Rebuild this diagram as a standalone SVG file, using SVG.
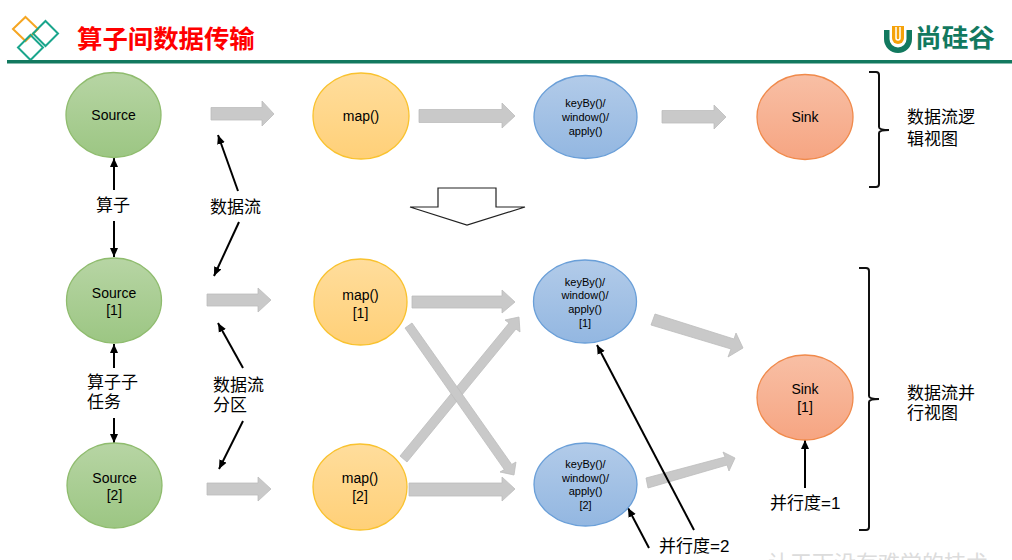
<svg xmlns="http://www.w3.org/2000/svg" width="1012" height="560" viewBox="0 0 1012 560">
<style>
text{font-family:"Liberation Sans","Noto Sans CJK SC",sans-serif;fill:#000;text-anchor:middle}
.n{font-size:14px}.k{font-size:11px}.c{font-size:17px;text-anchor:start}
.g{fill:url(#gg);stroke:#8fbc6e;stroke-width:1.3}.y{fill:url(#gy);stroke:#f9c22e;stroke-width:1.3}
.b{fill:url(#gb);stroke:#6a9fd8;stroke-width:1.3}.o{fill:url(#go);stroke:#f08a4b;stroke-width:1.3}
.fat{fill:#c9c9c9;stroke:#bdbdbd;stroke-width:.8}
.l{stroke:#000;stroke-width:2;fill:none;marker-end:url(#ah)}
.br{stroke:#111;stroke-width:2;fill:none}
</style>
<defs>
<linearGradient id="gg" x1="0" y1="0" x2="0" y2="1"><stop offset="0" stop-color="#b7d5a4"/><stop offset="1" stop-color="#9cc683"/></linearGradient>
<linearGradient id="gy" x1="0" y1="0" x2="0" y2="1"><stop offset="0" stop-color="#ffdd9c"/><stop offset="1" stop-color="#ffd078"/></linearGradient>
<linearGradient id="gb" x1="0" y1="0" x2="0" y2="1"><stop offset="0" stop-color="#b2cbe9"/><stop offset="1" stop-color="#93b7e1"/></linearGradient>
<linearGradient id="go" x1="0" y1="0" x2="0" y2="1"><stop offset="0" stop-color="#f8bfa5"/><stop offset="1" stop-color="#f6a582"/></linearGradient>
<marker id="ah" markerUnits="userSpaceOnUse" markerWidth="12" markerHeight="12" refX="9" refY="4.500" orient="auto"><path d="M0 0.500L9 4.500L0 8.500Z" fill="#000"/></marker>
</defs>
<g id="header">
<g fill="none" stroke-width="2">
<path d="M25.500 17L38 29L25.500 41L13 29Z" stroke="#f5a623"/>
<path d="M45.500 21L58 33.500L45.500 46L33 33.500Z" stroke="#1aa58c"/>
<path d="M30.500 35L43 47.500L30.500 60L18 47.500Z" stroke="#1aa58c"/>
</g>
<text x="77" y="47.500" style="font-size:25.400px;font-weight:bold;fill:#f00;text-anchor:start;font-family:'Noto Sans CJK SC','Liberation Sans',sans-serif">算子间数据传输</text>
<rect x="7" y="60" width="1005" height="3.500" fill="#12795f"/>
</g>
<g id="logo">
<path d="M884 30V39A14 14 0 0 0 912 39V30H906.500V39A8.500 8.500 0 0 1 889.500 39V30Z" fill="#12795f"/>
<path d="M892 26H904V38A6 6 0 0 1 892 38Z" fill="#f5a20a"/>
<path d="M896 27V38A2 2 0 0 0 900 38V27" fill="none" stroke="#fff" stroke-width="1.500"/>
<text x="915" y="47" textLength="80" lengthAdjust="spacingAndGlyphs" style="font-size:25px;font-weight:bold;fill:#12795f;text-anchor:start">尚硅谷</text>
</g>
<g id="connectors">
<g class="fat">
<path d="M211 107.500H262V101L274 114L262 126V120H211Z"/>
<path d="M419 109.500H502V103L515 116L502 128V122.500H419Z"/>
<path d="M662 110.500H714V105L726 117L714 129V123H662Z"/>
<path d="M207 294H258V288L271 300L258 312V306H207Z"/>
<path d="M412 296H502V290L515 302L502 313V308H412Z"/>
<path d="M207 483H258V477L271 489L258 501V495H207Z"/>
<path d="M409 483H502V477L515 489L502 501V496H409Z"/>
<path d="M655 314L734 339L736 333L743 348L728 357L731 349L651 325Z"/>
<path d="M646 478L725 457L723 452L735 458L729 471L727 465L648 488Z"/>
<path d="M400 456L509 323L505 320L519 317L520 332L516 329L407 462Z"/>
<path d="M405 328L504.300 469.600L500 472L514 475L516 462L511.700 464.400L412 323Z"/>
</g>
<path d="M410 207H438V188H496V207H525L467 225Z" fill="#fff" stroke="#222" stroke-width="1.200"/>
<path class="l" d="M114 190V158"/>
<path class="l" d="M114 221V257"/>
<path class="l" d="M114 368V344"/>
<path class="l" d="M114 418V443"/>
<path class="l" d="M238 191L218 135"/>
<path class="l" d="M239 222L214 276"/>
<path class="l" d="M243 368L218 323"/>
<path class="l" d="M243 421L219 469"/>
<path class="l" d="M694 530L597 345"/>
<path class="l" d="M649 548L628 508"/>
<path class="l" d="M805 488V440"/>
</g>
<g id="source"><ellipse class="g" cx="113.500" cy="115" rx="47.500" ry="42.500"/><text class="n" x="113.500" y="120">Source</text></g>
<g id="map"><ellipse class="y" cx="361" cy="116" rx="48" ry="43"/><text class="n" x="361" y="121">map()</text></g>
<g id="keyby"><ellipse class="b" cx="585.500" cy="117" rx="51.500" ry="41.500"/><text class="k" x="585.500" y="107">keyBy()/</text><text class="k" x="585.500" y="121">window()/</text><text class="k" x="585.500" y="135">apply()</text></g>
<g id="sink"><ellipse class="o" cx="805" cy="117" rx="48" ry="42.500"/><text class="n" x="805" y="122">Sink</text></g>
<g id="source1"><ellipse class="g" cx="114" cy="300.500" rx="47.500" ry="42.500"/><text class="n" x="114" y="298">Source</text><text class="n" x="114" y="315">[1]</text></g>
<g id="map1"><ellipse class="y" cx="360.500" cy="302" rx="46.500" ry="43"/><text class="n" x="360.500" y="300">map()</text><text class="n" x="360.500" y="318">[1]</text></g>
<g id="keyby1"><ellipse class="b" cx="585" cy="301.500" rx="51.500" ry="41.500"/><text class="k" x="585" y="286">keyBy()/</text><text class="k" x="585" y="299">window()/</text><text class="k" x="585" y="313">apply()</text><text class="k" x="585" y="327">[1]</text></g>
<g id="source2"><ellipse class="g" cx="114.500" cy="485.500" rx="47.500" ry="42.500"/><text class="n" x="114.500" y="483">Source</text><text class="n" x="114.500" y="500">[2]</text></g>
<g id="map2"><ellipse class="y" cx="360" cy="487" rx="47" ry="43"/><text class="n" x="360" y="483">map()</text><text class="n" x="360" y="501">[2]</text></g>
<g id="keyby2"><ellipse class="b" cx="585.500" cy="484.500" rx="51.500" ry="41.500"/><text class="k" x="585.500" y="468">keyBy()/</text><text class="k" x="585.500" y="482">window()/</text><text class="k" x="585.500" y="495">apply()</text><text class="k" x="585.500" y="509">[2]</text></g>
<g id="sink1"><ellipse class="o" cx="805" cy="397.500" rx="48" ry="42.500"/><text class="n" x="805" y="394">Sink</text><text class="n" x="805" y="412">[1]</text></g>
<g id="labels">
<text class="c" x="96" y="211">算子</text>
<text class="c" x="210" y="213">数据流</text>
<text class="c" x="87" y="388">算子子</text>
<text class="c" x="87" y="408">任务</text>
<text class="c" x="213" y="391">数据流</text>
<text class="c" x="213" y="411">分区</text>
<text class="c" x="770" y="509">并行度=1</text>
<text class="c" x="659" y="552">并行度=2</text>
<text class="c" x="907" y="123">数据流逻</text>
<text class="c" x="907" y="145">辑视图</text>
<text class="c" x="907" y="399">数据流并</text>
<text class="c" x="907" y="419">行视图</text>
</g>
<g id="braces">
<path class="br" d="M869 72H876Q879 72 879 75V127Q879 130 889 130Q879 130 879 133V184Q879 187 876 187H869"/>
<path class="br" d="M859 268H866Q869 268 869 271V396Q869 399 879 399Q869 399 869 402V527Q869 530 866 530H859"/>
</g>
<text x="768" y="571" style="font-size:22px;fill:#dcdcdc;text-anchor:start">让天下没有难学的技术</text>
</svg>
